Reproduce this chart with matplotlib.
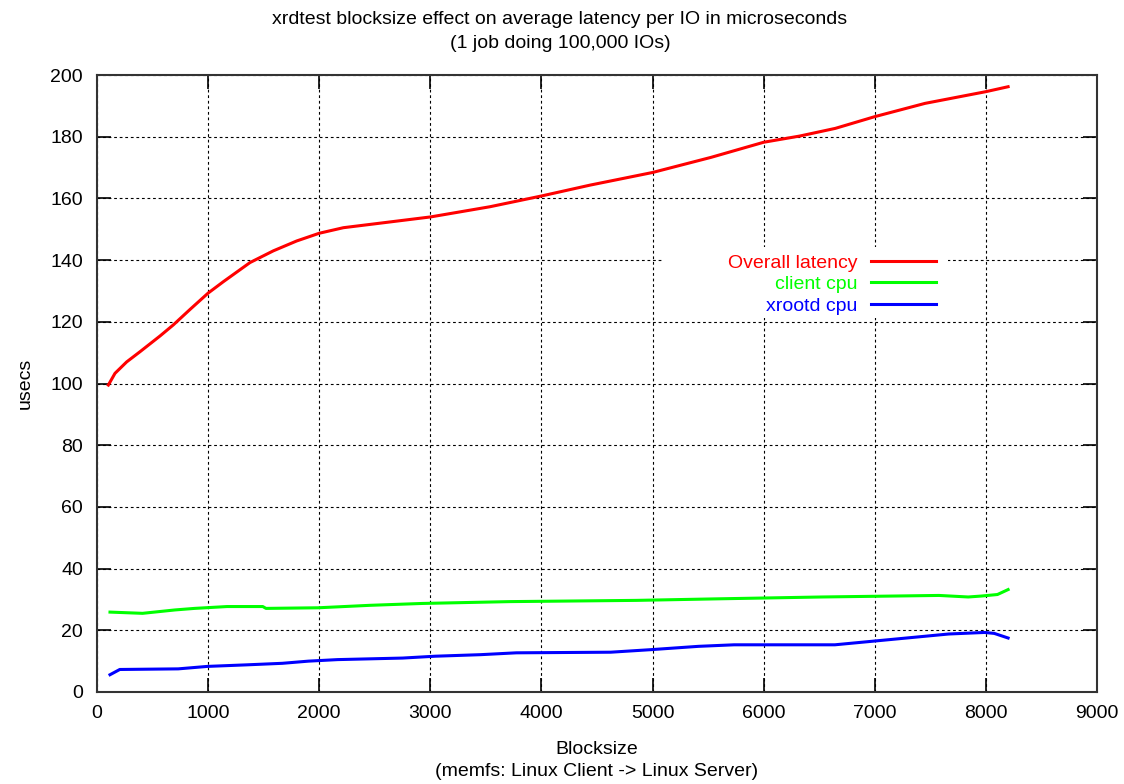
import matplotlib
matplotlib.use("Agg")
import matplotlib.pyplot as plt
from matplotlib.patches import Rectangle

plt.rcParams['font.family'] = ['Liberation Sans', 'DejaVu Sans']

# Overall latency
lat_x = [102, 162, 267, 387, 567, 687, 837, 1000, 1137, 1377, 1587, 1797, 2000,
         2217, 2487, 3003, 3537, 4002, 4437, 5000, 5526, 6000, 6323, 6645, 7000,
         7452, 8000, 8200]
lat_y = [99.5, 103.3, 107, 110.3, 115.4, 119, 124, 129.3, 133, 139.2, 143, 146.2,
         148.7, 150.5, 151.7, 154, 157.3, 160.8, 164.3, 168.4, 173.3, 178.2, 180.2,
         182.7, 186.5, 190.8, 194.6, 196.2]

# client cpu
cli_x = [117, 410, 702, 878, 1170, 1492, 1521, 1990, 2458, 2926, 3716, 4857, 5588,
         6524, 7578, 7841, 7958, 8104, 8200]
cli_y = [25.9, 25.5, 26.6, 27.1, 27.7, 27.7, 27.1, 27.3, 28.1, 28.7, 29.3, 29.7,
         30.2, 30.8, 31.3, 30.8, 31.1, 31.6, 33.2]

# xrootd cpu
xrd_x = [117, 205, 731, 995, 1346, 1668, 1902, 2165, 2750, 3043, 3452, 3774, 4623,
         4974, 5413, 5734, 6641, 7022, 7344, 7665, 7987, 8075, 8200]
xrd_y = [5.6, 7.3, 7.5, 8.3, 8.8, 9.3, 10.0, 10.5, 11.0, 11.6, 12.1, 12.7, 12.9,
         13.7, 14.8, 15.3, 15.3, 16.6, 17.7, 18.8, 19.3, 19.0, 17.5]

x_ticks = [0, 1000, 2000, 3000, 4000, 5000, 6000, 7000, 8000, 9000]
y_ticks = [0, 20, 40, 60, 80, 100, 120, 140, 160, 180, 200]

FS = 14
fig = plt.figure(figsize=(11.24, 7.84), dpi=100)
ax = fig.add_axes([97/1124, 1 - 692/784, 1000/1124, 617/784])

ax.plot(lat_x, lat_y, color='#ff0000', lw=2.2, label='Overall latency', zorder=5)
ax.plot(cli_x, cli_y, color='#00ff00', lw=2.2, label='client cpu', zorder=5)
ax.plot(xrd_x, xrd_y, color='#0000ff', lw=2.2, label='xrootd cpu', zorder=5)

ax.set_xlim(0, 9000)
ax.set_ylim(0, 200)
ax.set_xticks(x_ticks)
ax.set_yticks(y_ticks)
ax.tick_params(direction='in', length=10, width=1.2, labelsize=FS,
               top=True, right=True, pad=9, colors='black')
ax.tick_params(axis='y', pad=10)
ax.grid(True, color='black', linestyle=(0, (2.5, 2.5)), linewidth=0.8)
ax.set_axisbelow(True)
for s in ax.spines.values():
    s.set_linewidth(1.5)
    s.set_color('#333333')

# white key area that hides the grid behind the legend
ax.add_patch(Rectangle((0.565, 0.606), 0.286, 0.116, transform=ax.transAxes,
                       facecolor='white', edgecolor='none', zorder=3))

ax.set_ylabel('usecs', fontsize=FS, labelpad=12)
fig.text(597/1124, 1 - 749/784, 'Blocksize', ha='center', va='center', fontsize=FS)
fig.text(597/1124, 1 - 772/784, '(memfs: Linux Client -> Linux Server)',
         ha='center', va='center', fontsize=FS)
fig.text(560/1124, 1 - 20/784,
         'xrdtest blocksize effect on average latency per IO in microseconds',
         ha='center', va='center', fontsize=FS)
fig.text(560/1124, 1 - 43/784, '(1 job doing 100,000 IOs)',
         ha='center', va='center', fontsize=FS)

leg = ax.legend(loc='upper right', bbox_to_anchor=(0.856, 0.738), markerfirst=False,
                frameon=False, fontsize=FS, handlelength=3.3, handletextpad=0.7,
                labelspacing=0.2, borderpad=0.4)
for txt, line in zip(leg.get_texts(), leg.get_lines()):
    txt.set_color(line.get_color())
leg.set_zorder(4)

fig.savefig('out.png', dpi=100)
